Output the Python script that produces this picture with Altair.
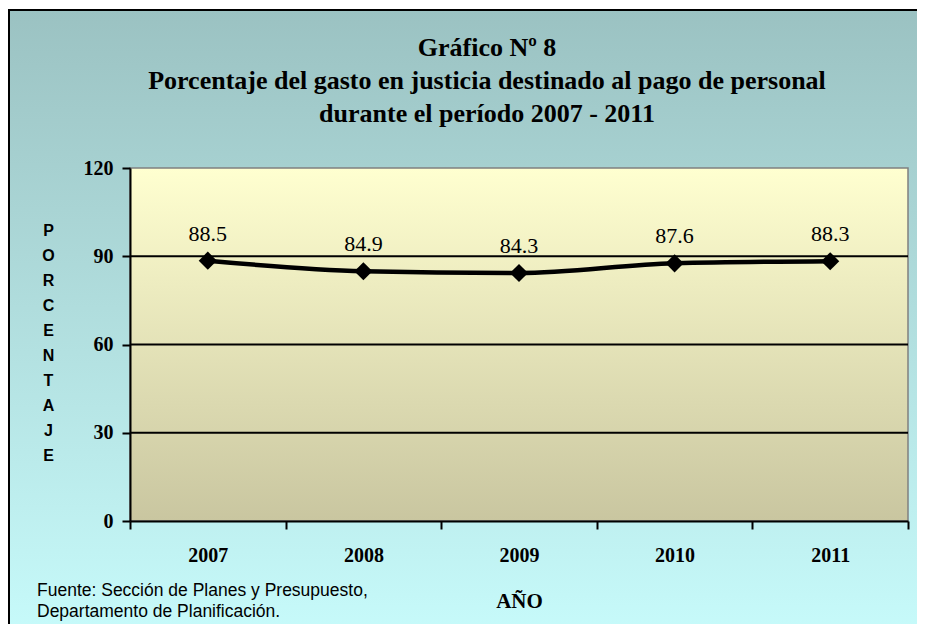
import altair as alt
import pandas as pd

# ---- data ----
years = [2007, 2008, 2009, 2010, 2011]
values = [88.5, 84.9, 84.3, 87.6, 88.3]
value_labels = ["88.5", "84.9", "84.3", "87.6", "88.3"]
y_ticks = [0, 30, 60, 90, 120]
grid_values = [30, 60, 90]
x_bounds = [2006.5, 2007.5, 2008.5, 2009.5, 2010.5, 2011.5]
title_lines = [
    "Gráfico Nº 8",
    "Porcentaje del gasto en justicia destinado al pago de personal",
    "durante el período 2007 - 2011",
]
y_title = list("PORCENTAJE")
x_title = "AÑO"
source_lines = ["Fuente: Sección de Planes y Presupuesto,", "Departamento de Planificación."]

W, H = 778, 353
SERIF = "Liberation Serif"
SANS = "Liberation Sans"

df = pd.DataFrame({"year": years, "value": values, "label": value_labels})
grid_df = pd.DataFrame({"g": grid_values})

xscale = alt.Scale(domain=[x_bounds[0], x_bounds[-1]], nice=False, zero=False)
yscale = alt.Scale(domain=[y_ticks[0], y_ticks[-1]], nice=False, zero=True)

outer_grad = alt.LinearGradient(
    gradient="linear", x1=0, y1=0, x2=0, y2=1,
    stops=[alt.GradientStop(color="#9BC2C2", offset=0),
           alt.GradientStop(color="#C8FCFC", offset=1)],
)
plot_grad = alt.LinearGradient(
    gradient="linear", x1=0, y1=0, x2=0, y2=1,
    stops=[alt.GradientStop(color="#FFFFD0", offset=0),
           alt.GradientStop(color="#C9C6A0", offset=1)],
)

one = alt.Data(values=[{"k": 1}])

bg = alt.Chart(one).mark_rect(fill=outer_grad, stroke="black", strokeWidth=2).encode(
    x=alt.value(-121), x2=alt.value(W + 40), y=alt.value(-158), y2=alt.value(H + 130)
)
plot_bg = alt.Chart(one).mark_rect(fill=plot_grad, stroke="#808080", strokeWidth=1.5).encode(
    x=alt.value(0), x2=alt.value(W), y=alt.value(0), y2=alt.value(H)
)

tick_axis = alt.Axis(
    values=x_bounds, labels=False, title=None, orient="bottom",
    tickSize=8, tickWidth=2, tickColor="black",
    domainColor="black", domainWidth=2, grid=False, zindex=1,
)
label_axis = alt.Axis(
    values=years, format="d", ticks=False, domain=False, orient="bottom",
    labelFont=SERIF, labelFontWeight="bold", labelFontSize=20, labelColor="black",
    labelPadding=24, grid=False, zindex=1,
    title=x_title, titleFont=SERIF, titleFontWeight="bold", titleFontSize=21,
    titleColor="black", titlePadding=25,
)
y_axis = alt.Axis(
    values=y_ticks, grid=False, zindex=1,
    labelFont=SERIF, labelFontWeight="bold", labelFontSize=20, labelColor="black",
    labelPadding=9, tickSize=8, tickWidth=2, tickColor="black",
    domainColor="black", domainWidth=2,
    title=y_title, titleFont=SANS, titleFontWeight="bold", titleFontSize=16,
    titleColor="black", titleAngle=0, titleAlign="center", titleBaseline="top",
    titleLineHeight=25, titleX=-82, titleY=54,
)

grid = alt.Chart(grid_df).mark_rule(color="black", strokeWidth=2).encode(
    y=alt.Y("g:Q", scale=yscale, axis=y_axis)
)
line = alt.Chart(df).mark_line(color="black", strokeWidth=4.5, interpolate="monotone").encode(
    x=alt.X("year:Q", scale=xscale, axis=tick_axis),
    y=alt.Y("value:Q", scale=yscale),
)
points = alt.Chart(df).mark_point(shape="diamond", filled=True, size=330, color="black", opacity=1).encode(
    x=alt.X("year:Q", scale=xscale),
    y=alt.Y("value:Q", scale=yscale),
)
texts = alt.Chart(df).mark_text(font=SERIF, fontSize=22, dy=-20, baseline="alphabetic", color="black").encode(
    x=alt.X("year:Q", scale=xscale, axis=label_axis),
    y=alt.Y("value:Q", scale=yscale),
    text="label:N",
)
title = alt.Chart(one).mark_text(
    font=SERIF, fontSize=26, fontWeight="bold", align="center", baseline="alphabetic",
    lineHeight=33, color="black"
).encode(x=alt.value(487 - 130), y=alt.value(56 - 168), text=alt.value(title_lines))
source = alt.Chart(one).mark_text(
    font=SANS, fontSize=17.5, align="left", baseline="alphabetic", lineHeight=21, color="black"
).encode(x=alt.value(37 - 130), y=alt.value(596 - 168), text=alt.value(source_lines))

chart = (
    alt.layer(bg, plot_bg, grid, line, points, texts, title, source)
    .resolve_axis(x="independent")
    .properties(
        width=W, height=H,
        autosize=alt.AutoSizeParams(type="none"),
        padding={"left": 122, "top": 160, "right": 9, "bottom": 103},
    )
    .configure_view(stroke=None)
    .configure(background="white")
)

chart.save("out.html", embed_options={"renderer": "svg", "actions": False})
